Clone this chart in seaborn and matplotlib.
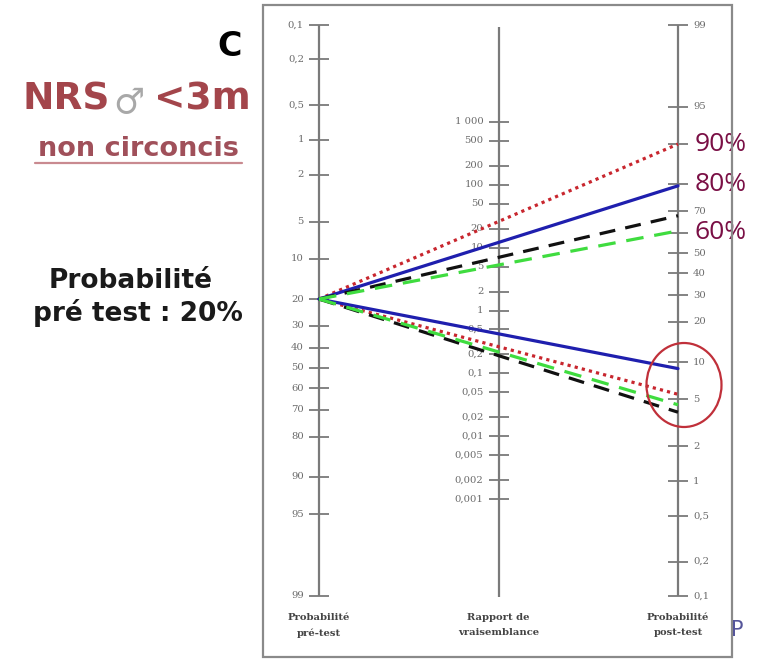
import numpy as np
import pandas as pd
import matplotlib
matplotlib.use("Agg")
import matplotlib.pyplot as plt
import seaborn as sns
from matplotlib.patches import Ellipse, Rectangle
from matplotlib.lines import Line2D

# ---------------- data ----------------
pre_test_pct = 20
tests = ["Test A", "Test B", "Test C", "Test D"]
post_positive_pct = [90, 79.5, 68, 61]
post_negative_pct = [5.5, 8.9, 3.9, 4.5]

pre_ticks = [0.1, 0.2, 0.5, 1, 2, 5, 10, 20, 30, 40, 50, 60, 70, 80, 90, 95, 99]
lr_ticks = [1000, 500, 200, 100, 50, 20, 10, 5, 2, 1, 0.5, 0.2, 0.1,
            0.05, 0.02, 0.01, 0.005, 0.002, 0.001]
post_ticks = [99, 95, 90, 80, 70, 60, 50, 40, 30, 20, 10, 5, 2, 1, 0.5, 0.2, 0.1]

highlight_values = [90, 80, 60]
highlight_labels = ["90%", "80%", "60%"]

axis_titles = ["Probabilité\npré-test", "Rapport de\nvraisemblance", "Probabilité\npost-test"]

# ---------------- styles ----------------
colors = ["#c8262e", "#1f1fae", "#111111", "#3fdc3f"]
dashes = [(1, 1.3), "", (5, 3.2), (5.5, 3.4)]
mid_stretch = 1.1   # the printed middle scale is drawn slightly stretched

W, H = 757, 663
sns.set_theme(style="white")
plt.rcParams["font.family"] = ["DejaVu Sans"]

def logit(p):
    return np.log(p / (1 - p))

c_off = -logit(post_ticks[0] / 100) - logit(pre_ticks[0] / 100)

def u_left(pct):
    return logit(np.asarray(pct, float) / 100)

def u_right(pct):
    return -logit(np.asarray(pct, float) / 100) - c_off

def u_mid(lr):
    return (-mid_stretch * np.log(np.asarray(lr, float)) - c_off) / 2

# pixel anchors for layout
top_px, bot_px = 25, 596
x0_px, x2_px = 319, 678
u_top = float(u_left(pre_ticks[0]))
u_bot = float(u_left(pre_ticks[-1]))
ppu = (bot_px - top_px) / (u_bot - u_top)
ppx = (x2_px - x0_px) / 2

fig, ax = plt.subplots(figsize=(W / 100, H / 100), dpi=100)
ax.set_position([0, 0, 1, 1])
ax.set_xlim(-x0_px / ppx, (W - x0_px) / ppx)
ax.set_ylim(u_top + (H - top_px) / ppu, u_top - top_px / ppu)
ax.axis("off")

def fx(px):
    return px / W

def fy(py):
    return 1 - py / H

def u_px(py):
    return u_top + (py - top_px) / ppu

# panel border
fig.patches.append(Rectangle((fx(263), fy(657)), fx(732) - fx(263), fy(5) - fy(657),
                             transform=fig.transFigure, fill=False,
                             edgecolor="#8a8a8a", lw=1.6, zorder=0))

# vertical axes
axis_col = "#7a7a7a"
ax.vlines([0, 2], u_top, u_bot, color=axis_col, lw=1.6, zorder=1)
ax.vlines([1], u_px(27), u_px(597), color=axis_col, lw=1.6, zorder=1)

tick_half = 10 / ppx
lab_off = 15 / ppx

def fmt(v):
    s = f"{v:,g}"
    return s.replace(",", " ").replace(".", ",")

tick_kw = dict(fontsize=7.2, color="#6a6a6a", family="DejaVu Serif", va="center")

ul = u_left(pre_ticks)
ax.hlines(ul, -tick_half, tick_half, color=axis_col, lw=1.3, zorder=1)
for v, u in zip(pre_ticks, ul):
    ax.text(-lab_off, u, fmt(v), ha="right", **tick_kw)

um = u_mid(lr_ticks)
ax.hlines(um, 1 - tick_half, 1 + tick_half, color=axis_col, lw=1.3, zorder=1)
for v, u in zip(lr_ticks, um):
    ax.text(1 - lab_off, u, fmt(v), ha="right", **tick_kw)

ur = u_right(post_ticks)
ax.hlines(ur, 2 - tick_half, 2 + tick_half, color=axis_col, lw=1.3, zorder=1)
for v, u in zip(post_ticks, ur):
    if v in highlight_values:
        continue  # hidden under the large highlight labels in the reference
    ax.text(2 + lab_off, u, fmt(v), ha="left", **tick_kw)

# axis titles
for xpos, t in zip([0, 1, 2], axis_titles):
    ax.text(xpos, u_px(613), t, ha="center", va="top",
            fontsize=7.2, fontweight="bold", family="DejaVu Serif",
            color="#444444", linespacing=1.9)

# ---------------- lines ----------------
rows = []
for t, pp, pn in zip(tests, post_positive_pct, post_negative_pct):
    for res, post in (("positif", pp), ("négatif", pn)):
        rows.append(dict(test=t, result=res, x=0, u=float(u_left(pre_test_pct))))
        rows.append(dict(test=t, result=res, x=2, u=float(u_right(post))))
df = pd.DataFrame(rows)

sns.lineplot(data=df, x="x", y="u", hue="test", style="test", units="result",
             estimator=None, sort=False, palette=dict(zip(tests, colors)),
             dashes=dict(zip(tests, dashes)), linewidth=2.3, legend=False,
             ax=ax, zorder=3)
ax.set_xlabel("")
ax.set_ylabel("")
ax.axis("off")

# red circle
ax.add_patch(Ellipse((2 + 6 / ppx, u_px(385)), 75 / ppx, 84 / ppu,
                     fill=False, edgecolor="#c0303a", lw=1.6, zorder=4))

# right-side percentage labels
for v, lab in zip(highlight_values, highlight_labels):
    ax.text(2 + 17 / ppx, float(u_right(v)), lab, ha="left", va="center",
            fontsize=19, color="#7a0f45", family="Open Sans", zorder=5)

# ---------------- left annotations ----------------
fig.text(fx(242), fy(56), "C", ha="right", va="baseline", fontsize=24,
         fontweight="bold", color="black")

red_txt = "#a3454b"
t1 = fig.text(fx(23), fy(109), "NRS", ha="left", va="baseline", fontsize=27,
              fontweight="bold", color=red_txt)
t2 = ax.annotate("♂", xy=(1, 0), xycoords=t1, xytext=(2, -2),
                 textcoords="offset points", ha="left", va="bottom",
                 fontsize=25, color="#a8a8a8", family="DejaVu Sans")
t3 = ax.annotate("<3m", xy=(1, 0), xycoords=t1, xytext=(31, 0),
                 textcoords="offset points", ha="left", va="bottom",
                 fontsize=27, fontweight="bold", color=red_txt)

fig.text(fx(138), fy(156), "non circoncis", ha="center", va="baseline",
         fontsize=19.5, fontweight="bold", color="#a0505a")
fig.add_artist(Line2D([fx(35), fx(242)], [fy(163), fy(163)],
                      color="#c98a90", lw=1.6))

fig.text(fx(131), fy(288), "Probabilité", ha="center", va="baseline",
         fontsize=19, fontweight="bold", color="#1a1a1a")
fig.text(fx(138), fy(321), "pré test : 20%", ha="center", va="baseline",
         fontsize=19, fontweight="bold", color="#1a1a1a")

fig.text(fx(731), fy(636), "P", ha="left", va="baseline", fontsize=15,
         color="#55559a")

fig.savefig("out.png", dpi=100)
